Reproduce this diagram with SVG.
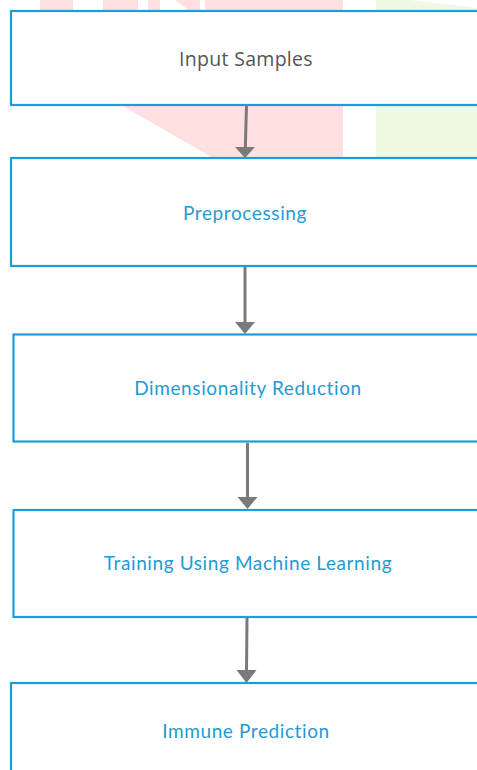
<svg xmlns="http://www.w3.org/2000/svg" width="477" height="770" viewBox="0 0 477 770">
<style>
.box{fill:#fff;stroke:#1b9dd9;stroke-width:2.2}
.lbl{font-family:Lato,"Liberation Sans",sans-serif;font-size:19px;letter-spacing:0.6px;fill:#1f9bd3;text-anchor:middle}
.lbl0{font-family:"Open Sans","Liberation Sans",sans-serif;font-size:19.5px;letter-spacing:0.3px;fill:#555;text-anchor:middle}
.wire{stroke:#7a7a7a;stroke-width:3;fill:none}
.head{fill:#7a7a7a}
.pink{fill:#ffe0e0}
</style>
<rect width="477" height="770" fill="#fff"/>
<g id="watermark">
<rect class="pink" x="40" y="0" width="33" height="11"/>
<rect class="pink" x="103" y="0" width="35" height="11"/>
<rect class="pink" x="148" y="0" width="12" height="11"/>
<polygon class="pink" points="175,0 200,0 200,11 190,11"/>
<rect class="pink" x="205" y="0" width="138" height="11"/>
<polygon class="pink" points="123,106 343,106 343,158 213,158"/>
<polygon points="376,0 410,0 477,8 477,158 376,158" fill="#eef8e2"/>
</g>
<g id="node1"><rect class="box" x="11" y="11" width="480" height="94"/><text class="lbl0" x="246" y="66">Input Samples</text></g>
<g id="node2"><rect class="box" x="11" y="158" width="480" height="108"/><text class="lbl" x="245" y="220">Preprocessing</text></g>
<g id="node3"><rect class="box" x="13.5" y="334.5" width="480" height="107"/><text class="lbl" x="248" y="395">Dimensionality Reduction</text></g>
<g id="node4"><rect class="box" x="13.5" y="510" width="480" height="107"/><text class="lbl" x="248" y="570">Training Using Machine Learning</text></g>
<g id="node5"><rect class="box" x="11" y="683" width="480" height="100"/><text class="lbl" x="246" y="738">Immune Prediction</text></g>
<g id="connectors">
<line class="wire" x1="246.5" y1="106" x2="245.3" y2="148"/><polygon class="head" points="235,147 255,147 245,158"/>
<line class="wire" x1="245" y1="267" x2="245" y2="323"/><polygon class="head" points="235,322 255,322 245,334"/>
<line class="wire" x1="247.5" y1="443" x2="247.5" y2="498"/><polygon class="head" points="237.5,497 257.5,497 247.5,509"/>
<line class="wire" x1="247" y1="618" x2="246.5" y2="671"/><polygon class="head" points="236.5,670 256.5,670 246.5,683"/>
</g>
</svg>
